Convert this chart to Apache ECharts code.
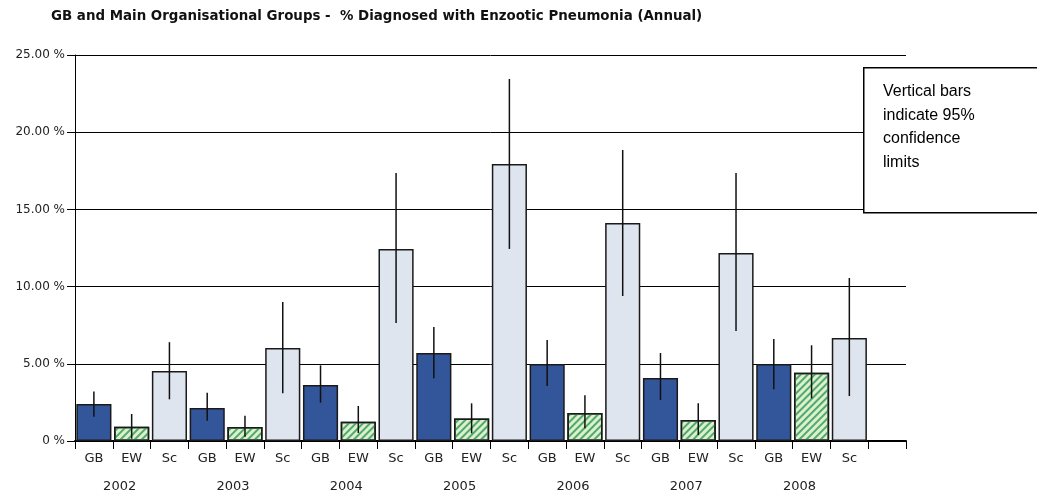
<!DOCTYPE html>
<html>
<head>
<meta charset="utf-8">
<script src="https://cdn.jsdelivr.net/npm/echarts@6/dist/echarts.min.js"></script>
<style>
  html, body { margin: 0; padding: 0; background: #fff; }
  #chart { width: 1037px; height: 501px; }
</style>
</head>
<body>
<div id="chart"></div>
<script>
// Annual % diagnosed with enzootic pneumonia, with 95% confidence limits
const years = ['2002', '2003', '2004', '2005', '2006', '2007', '2008'];
const groups = ['GB', 'EW', 'Sc'];

const gbValues = [2.40, 2.14, 3.63, 5.70, 4.99, 4.08, 4.99];
const gbLow    = [1.57, 1.31, 2.48, 4.06, 3.56, 2.66, 3.35];
const gbHigh   = [3.20, 3.13, 4.90, 7.38, 6.54, 5.70, 6.60];

const ewValues = [0.93, 0.90, 1.25, 1.45, 1.81, 1.36, 4.42];
const ewLow    = [0.15, 0.28, 0.52, 0.50, 0.82, 0.39, 2.76];
const ewHigh   = [1.75, 1.64, 2.27, 2.44, 2.96, 2.44, 6.20];

const scValues = [4.53, 6.02, 12.44, 17.94, 14.12, 12.18, 6.67];
const scLow    = [2.70, 3.10, 7.64, 12.44, 9.39, 7.12, 2.91];
const scHigh   = [6.40, 9.00, 17.36, 23.45, 18.85, 17.36, 10.56];

const yTicks = [0, 5, 10, 15, 20, 25];

const styles = {
  GB: { color: '#335599', borderColor: '#1a1a1a', borderWidth: 1.5 },
  EW: {
    color: '#dcf2c4', borderColor: '#1a1a1a', borderWidth: 1.5,
    decal: {
      symbol: 'rect', symbolSize: 1, color: '#4fa77a',
      dashArrayX: [1, 0], dashArrayY: [2, 2.5], rotation: -Math.PI / 4
    }
  },
  Sc: { color: '#dfe5ee', borderColor: '#1a1a1a', borderWidth: 1.5 }
};

const series = { GB: [gbValues, gbLow, gbHigh], EW: [ewValues, ewLow, ewHigh], Sc: [scValues, scLow, scHigh] };

// one slot per group per year, plus a trailing empty slot
const categories = [];
const yearLabels = [];
const barData = [];
const errData = [];
years.forEach((yr, yi) => {
  groups.forEach((g, gi) => {
    const idx = categories.length;
    categories.push(g);
    yearLabels.push(gi === 1 ? yr : '');
    const [v, lo, hi] = series[g];
    barData.push({ value: v[yi], itemStyle: styles[g] });
    errData.push([idx, lo[yi], hi[yi]]);
  });
});
categories.push('');
yearLabels.push('');
barData.push('-');

const chart = echarts.init(document.getElementById('chart'), null, { renderer: 'canvas' });

const labelFont = 'Tahoma, "DejaVu Sans", sans-serif';

chart.setOption({
  animation: false,
  backgroundColor: '#fff',
  title: {
    text: 'GB and Main Organisational Groups -  % Diagnosed with Enzootic Pneumonia (Annual)',
    left: 46, top: 5,
    textStyle: { fontFamily: labelFont, fontSize: 13.4, fontWeight: 'bold', color: '#111' }
  },
  grid: { left: 75, right: 131, top: 55, bottom: 60 },
  xAxis: [
    {
      type: 'category', data: categories,
      axisLine: { lineStyle: { color: '#000', width: 2 } },
      axisTick: { show: true, interval: 0, length: 8, lineStyle: { color: '#000', width: 1 } },
      axisLabel: { interval: 0, margin: 11, color: '#222', fontFamily: labelFont, fontSize: 13 },
      splitLine: { show: false }
    },
    {
      type: 'category', data: yearLabels, position: 'bottom', offset: 28,
      axisLine: { show: false }, axisTick: { show: false },
      axisLabel: { interval: 0, margin: 11, color: '#222', fontFamily: labelFont, fontSize: 13,
                   padding: [0, 24, 0, 0] }
    }
  ],
  yAxis: {
    type: 'value', min: yTicks[0], max: yTicks[yTicks.length - 1], interval: 5,
    axisLine: { show: true, lineStyle: { color: '#000', width: 1 } },
    axisTick: { show: true, length: 8, lineStyle: { color: '#000' } },
    axisLabel: {
      margin: 10, color: '#222', fontFamily: labelFont, fontSize: 12,
      formatter: v => v === 0 ? '0 %' : v.toFixed(2) + ' %'
    },
    splitLine: { show: true, lineStyle: { color: '#000', width: 1 } }
  },
  series: [
    {
      type: 'bar', data: barData, barCategoryGap: '7%', z: 2
    },
    {
      type: 'custom', data: errData, z: 5,
      encode: { x: 0, y: [1, 2] },
      renderItem: (params, api) => {
        const lo = api.coord([api.value(0), api.value(1)]);
        const hi = api.coord([api.value(0), api.value(2)]);
        return {
          type: 'line',
          shape: { x1: lo[0], y1: lo[1], x2: hi[0], y2: hi[1] },
          style: { stroke: '#111', lineWidth: 1.5 }
        };
      }
    }
  ],
  graphic: [
    {
      type: 'rect', left: 863, top: 67, z: 20,
      shape: { width: 190, height: 145 },
      style: { fill: '#fff', stroke: '#000', lineWidth: 1.5 }
    },
    {
      type: 'text', left: 883, top: 80, z: 21,
      style: {
        text: 'Vertical bars\nindicate 95%\nconfidence\nlimits',
        font: '16px "Liberation Sans", Arial, sans-serif',
        lineHeight: 23.5, fill: '#000'
      }
    }
  ]
});
</script>
</body>
</html>
